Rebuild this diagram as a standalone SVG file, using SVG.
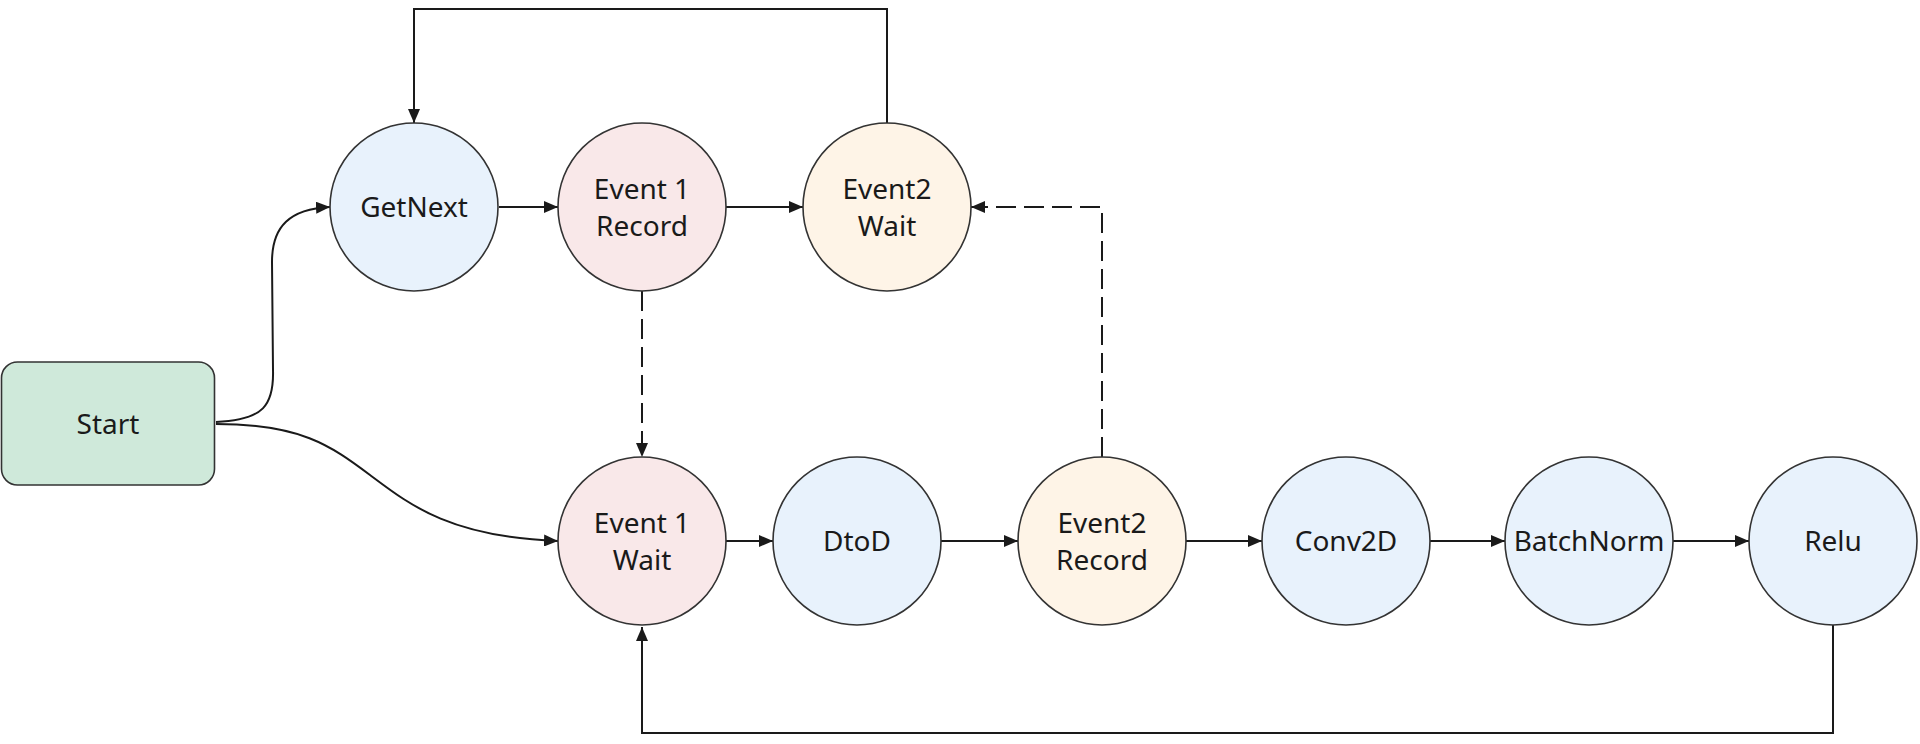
<svg xmlns="http://www.w3.org/2000/svg" width="1920" height="744" viewBox="0 0 1920 744">
<defs>
<style>
.node{stroke:#333;stroke-width:1.6}
.blue{fill:#e8f2fc}
.pink{fill:#f9e8e9}
.cream{fill:#fef4e7}
.green{fill:#cfe9da}
.lbl{font-family:"Noto Sans","Open Sans","DejaVu Sans",sans-serif;font-size:28px;fill:#1a1a1a;text-anchor:middle}
.edge{fill:none;stroke:#1a1a1a;stroke-width:2}
.dash{stroke-dasharray:20 8}
</style>
<marker id="arr" viewBox="0 0 14 12" refX="14" refY="6" markerWidth="14" markerHeight="12" markerUnits="userSpaceOnUse" orient="auto">
<path d="M0,0 L14,6 L0,12 Z" fill="#1a1a1a"/>
</marker>
</defs>
<rect width="1920" height="744" fill="#ffffff"/>
<g id="connectors">
<path class="edge" d="M216,422 C264,420 274,405 273,370 L272,262 C272,226 290,209 330,207" marker-end="url(#arr)"/>
<path class="edge" d="M216,424 C300,424 330,445 370,475 C410,505 450,537 558,541" marker-end="url(#arr)"/>
<path class="edge" d="M499,207 L558,207" marker-end="url(#arr)"/>
<path class="edge" d="M726,207 L803,207" marker-end="url(#arr)"/>
<path class="edge" d="M887,123 L887,9 L414,9 L414,123" marker-end="url(#arr)"/>
<path class="edge dash" d="M642,291 L642,457" marker-end="url(#arr)"/>
<path class="edge dash" d="M1102,457 L1102,207 L971,207" marker-end="url(#arr)"/>
<path class="edge" d="M726,541 L773,541" marker-end="url(#arr)"/>
<path class="edge" d="M941,541 L1018,541" marker-end="url(#arr)"/>
<path class="edge" d="M1186,541 L1262,541" marker-end="url(#arr)"/>
<path class="edge" d="M1430,541 L1505,541" marker-end="url(#arr)"/>
<path class="edge" d="M1673,541 L1749,541" marker-end="url(#arr)"/>
<path class="edge" d="M1833,625 L1833,733 L642,733 L642,627" marker-end="url(#arr)"/>
</g>
<g id="start">
<rect class="node green" x="1.5" y="362" width="213" height="123" rx="16"/>
<text class="lbl" x="108" y="434">Start</text>
</g>
<g id="getnext">
<circle class="node blue" cx="414" cy="207" r="84"/>
<text class="lbl" x="414" y="217">GetNext</text>
</g>
<g id="event1record">
<circle class="node pink" cx="642" cy="207" r="84"/>
<text class="lbl" x="642" y="199">Event 1</text>
<text class="lbl" x="642" y="236">Record</text>
</g>
<g id="event2wait">
<circle class="node cream" cx="887" cy="207" r="84"/>
<text class="lbl" x="887" y="199">Event2</text>
<text class="lbl" x="887" y="236">Wait</text>
</g>
<g id="event1wait">
<circle class="node pink" cx="642" cy="541" r="84"/>
<text class="lbl" x="642" y="533">Event 1</text>
<text class="lbl" x="642" y="570">Wait</text>
</g>
<g id="dtod">
<circle class="node blue" cx="857" cy="541" r="84"/>
<text class="lbl" x="857" y="551">DtoD</text>
</g>
<g id="event2record">
<circle class="node cream" cx="1102" cy="541" r="84"/>
<text class="lbl" x="1102" y="533">Event2</text>
<text class="lbl" x="1102" y="570">Record</text>
</g>
<g id="conv2d">
<circle class="node blue" cx="1346" cy="541" r="84"/>
<text class="lbl" x="1346" y="551">Conv2D</text>
</g>
<g id="batchnorm">
<circle class="node blue" cx="1589" cy="541" r="84"/>
<text class="lbl" x="1589" y="551">BatchNorm</text>
</g>
<g id="relu">
<circle class="node blue" cx="1833" cy="541" r="84"/>
<text class="lbl" x="1833" y="551">Relu</text>
</g>
</svg>
